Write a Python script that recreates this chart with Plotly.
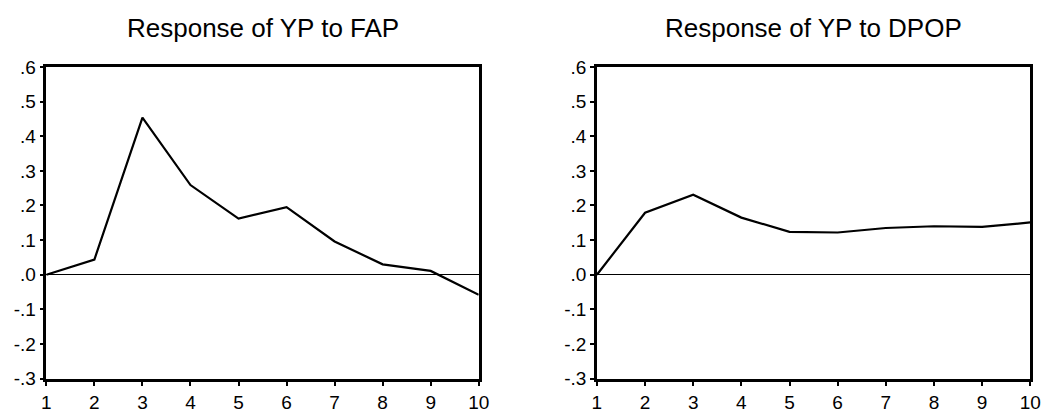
import plotly.graph_objects as go

# Impulse-response horizon (periods)
periods = [1, 2, 3, 4, 5, 6, 7, 8, 9, 10]

# Response of YP to a shock in FAP
resp_fap = [0.0, 0.044, 0.454, 0.259, 0.162, 0.195, 0.096, 0.030, 0.011, -0.058]

# Response of YP to a shock in DPOP
resp_dpop = [0.0, 0.179, 0.231, 0.165, 0.124, 0.122, 0.135, 0.140, 0.138, 0.151]

panel_titles = ["Response of YP to FAP", "Response of YP to DPOP"]

y_tickvals = [-0.3, -0.2, -0.1, 0.0, 0.1, 0.2, 0.3, 0.4, 0.5, 0.6]
y_ticktext = ["-.3", "-.2", "-.1", ".0", ".1", ".2", ".3", ".4", ".5", ".6"]
x_tickvals = periods
x_ticktext = [str(p) for p in periods]

W, H = 1057, 420
FONT = "Liberation Sans, Arial, Helvetica, sans-serif"

fig = go.Figure()

# Plot-area boxes in pixels: (left, right, top, bottom)
boxes = [(42, 481, 60, 388), (601, 1041, 60, 388)]
series = [resp_fap, resp_dpop]

for i, (vals, (l, r, t, b)) in enumerate(zip(series, boxes)):
    xa = "x" if i == 0 else "x2"
    ya = "y" if i == 0 else "y2"
    fig.add_trace(go.Scatter(
        x=periods, y=vals, mode="lines",
        line=dict(color="black", width=2.2),
        xaxis=xa, yaxis=ya, showlegend=False, hoverinfo="skip",
    ))
    axis_common = dict(
        showgrid=False, showline=True, linecolor="black", linewidth=2.5,
        mirror=True, ticks="outside", tickcolor="black", tickwidth=1.5,
        tickfont=dict(family=FONT, size=19, color="black"),
    )
    xkey = "xaxis" if i == 0 else "xaxis2"
    ykey = "yaxis" if i == 0 else "yaxis2"
    fig.update_layout(**{
        xkey: dict(
            domain=[l / W, r / W], range=[1, 10], anchor=ya,
            tickvals=x_tickvals, ticktext=x_ticktext, ticklen=5,
            zeroline=False, **axis_common,
        ),
        ykey: dict(
            domain=[1 - b / H, 1 - t / H], range=[-0.3, 0.6], anchor=xa,
            tickvals=y_tickvals, ticktext=y_ticktext, ticklen=4,
            zeroline=True, zerolinecolor="black", zerolinewidth=1.2,
            **axis_common,
        ),
    })
    fig.add_annotation(
        text=panel_titles[i], xref="paper", yref="paper",
        x=(l + r) / 2 / W, y=1 - 19 / H, xanchor="center", yanchor="middle",
        showarrow=False, font=dict(family=FONT, size=26, color="black"),
    )

fig.update_layout(
    width=W, height=H,
    margin=dict(l=0, r=0, t=0, b=0),
    paper_bgcolor="white", plot_bgcolor="white",
)

fig.write_html("out.html")
